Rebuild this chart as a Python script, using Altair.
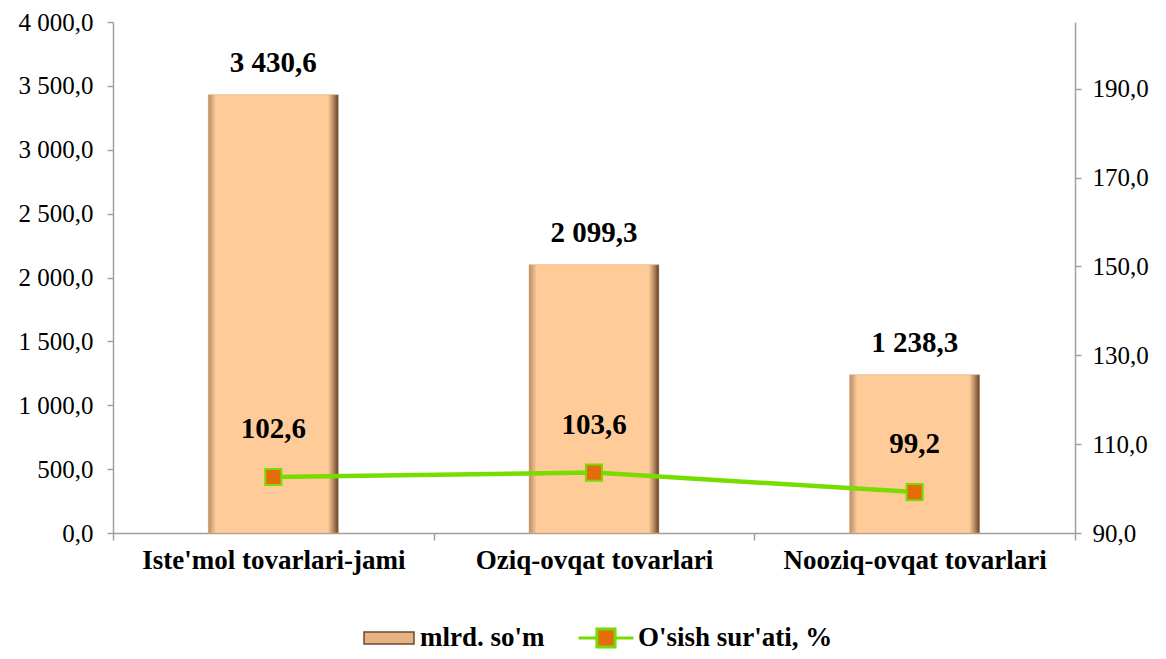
import altair as alt
import pandas as pd

categories = ["Iste'mol tovarlari-jami", "Oziq-ovqat tovarlari", "Nooziq-ovqat tovarlari"]
volume = [3430.6, 2099.3, 1238.3]
growth = [102.6, 103.6, 99.2]
bar_series = "mlrd. so'm"
line_series = "O'sish sur'ati, %"

df = pd.DataFrame({
    "cat": categories,
    "vol": volume,
    "gr": growth,
    "s1": [bar_series] * 3,
    "s2": [line_series] * 3,
})

FONT = "Liberation Serif"
AXIS_COLOR = "#a0a0a0"

x_enc = alt.X(
    "cat:N",
    sort=categories,
    scale=alt.Scale(paddingInner=0, paddingOuter=0),
    axis=alt.Axis(
        title=None, labelAngle=0, labelFont=FONT, labelFontSize=27, labelFontWeight="bold",
        labelColor="black", labelPadding=7, tickBand="extent", tickSize=7, labelLimit=400,
        domainColor=AXIS_COLOR, tickColor=AXIS_COLOR, domainWidth=1.5, tickWidth=1.5,
    ),
)

bar_gradient = alt.Gradient(
    gradient="linear", x1=0, x2=1, y1=0, y2=0,
    stops=[
        alt.GradientStop(offset=0, color="#b98c66"),
        alt.GradientStop(offset=0.06, color="#ffcc99"),
        alt.GradientStop(offset=0.92, color="#ffcc99"),
        alt.GradientStop(offset=0.965, color="#b0825c"),
        alt.GradientStop(offset=1, color="#5e3f26"),
    ],
)

y_left = alt.Y(
    "vol:Q",
    scale=alt.Scale(domain=[0, 4000], nice=False),
    axis=alt.Axis(
        title=None, values=list(range(0, 4001, 500)), format=",.1f", labelFont=FONT,
        labelFontSize=25, labelColor="black", grid=False, tickSize=6,
        domainColor=AXIS_COLOR, tickColor=AXIS_COLOR, domainWidth=1.5, tickWidth=1.5,
        labelPadding=14,
    ),
)

bars_legend = alt.Chart(df).mark_bar(size=130).encode(
    x=x_enc,
    y=y_left,
    fill=alt.Fill(
        "s1:N",
        scale=alt.Scale(domain=[bar_series], range=["#e8b384"]),
        legend=alt.Legend(
            title=None, orient="none", legendX=250, legendY=590, padding=0,
            symbolType="M-1,-0.24L1,-0.24L1,0.24L-1,0.24Z", symbolSize=2500,
            symbolStrokeColor="#6b4a30", symbolStrokeWidth=1.5,
            labelFont=FONT, labelFontSize=27, labelFontWeight="bold", labelColor="black",
            labelOffset=5, labelLimit=300,
        ),
    ),
)

bars = alt.Chart(df).mark_bar(size=130, fill=bar_gradient, stroke="#d9b08a", strokeWidth=0.5).encode(
    x=alt.X("cat:N", sort=categories),
    y=alt.Y("vol:Q"),
)

bar_text = alt.Chart(df).mark_text(
    dy=-32, font=FONT, fontSize=29, fontWeight="bold", color="black", baseline="middle"
).encode(
    x=alt.X("cat:N", sort=categories),
    y=alt.Y("vol:Q"),
    text=alt.Text("vol:Q", format=",.1f"),
)

left_layer = alt.layer(bars_legend, bars, bar_text)

y_right = alt.Y(
    "gr:Q",
    scale=alt.Scale(domain=[90, 205], nice=False, zero=False),
    axis=alt.Axis(
        title=None, orient="right", values=list(range(90, 191, 20)), format=",.1f",
        labelFont=FONT, labelFontSize=25, labelColor="black", grid=False, tickSize=6,
        domainColor=AXIS_COLOR, tickColor=AXIS_COLOR, domainWidth=1.5, tickWidth=1.5,
        labelPadding=11,
    ),
)

line = alt.Chart(df).mark_line(strokeWidth=4.5).encode(
    x=alt.X("cat:N", sort=categories),
    y=y_right,
    stroke=alt.Stroke(
        "s2:N",
        scale=alt.Scale(domain=[line_series], range=["#77dd00"]),
        legend=alt.Legend(
            title=None, orient="none", legendX=464, legendY=587, padding=0,
            symbolType="M-1,0L-0.33,0M0.33,0L1,0M-0.33,-0.33L0.33,-0.33L0.33,0.33L-0.33,0.33Z",
            symbolSize=3025,
            symbolStrokeWidth=3, symbolFillColor="#e46c0a", symbolStrokeColor="#77dd00",
            symbolOpacity=1,
            labelFont=FONT, labelFontSize=27, labelFontWeight="bold", labelColor="black",
            labelOffset=3, labelLimit=300,
        ),
    ),
)

points = alt.Chart(df).mark_square(
    size=260, fill="#e46c0a", stroke="#77dd00", strokeWidth=2, opacity=1
).encode(
    x=alt.X("cat:N", sort=categories),
    y=alt.Y("gr:Q"),
)

line_text = alt.Chart(df).mark_text(
    dy=-48, font=FONT, fontSize=29, fontWeight="bold", color="black", baseline="middle"
).encode(
    x=alt.X("cat:N", sort=categories),
    y=alt.Y("gr:Q"),
    text=alt.Text("gr:Q", format=",.1f"),
)

right_layer = alt.layer(line, points, line_text)

chart = (
    alt.layer(left_layer, right_layer)
    .resolve_scale(y="independent")
    .properties(
        width=962,
        height=511,
        autosize=alt.AutoSizeParams(type="none"),
        padding={"left": 105, "top": 14, "right": 83, "bottom": 118},
    )
    .configure(
        font=FONT,
        locale={"number": {"decimal": ",", "thousands": " ", "grouping": [3], "currency": ["", ""]}},
    )
    .configure_view(stroke=None)
)

chart.save("out.html", embed_options={"renderer": "svg", "actions": False})
